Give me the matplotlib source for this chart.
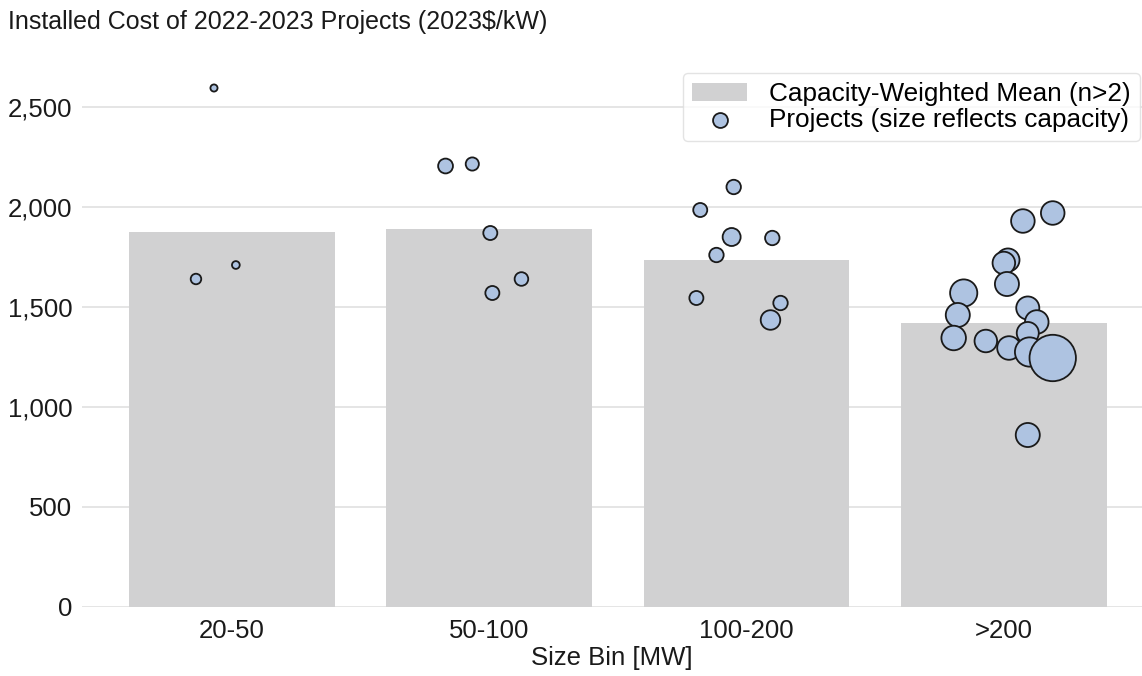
import numpy as np
import matplotlib
matplotlib.use('Agg')
import matplotlib.pyplot as plt

plt.rcParams['font.family'] = ['Liberation Sans', 'DejaVu Sans']

# Size bins and capacity-weighted mean cost (2023$/kW)
bins = ['20-50', '50-100', '100-200', '>200']
mean_cost = [1875, 1890, 1735, 1420]

# Individual projects: bin index, jitter offset, cost, capacity (MW)
proj_bin = [0, 0, 0,
            1, 1, 1, 1, 1,
            2, 2, 2, 2, 2, 2, 2, 2,
            3, 3, 3, 3, 3, 3, 3, 3, 3, 3, 3, 3, 3, 3, 3, 3]
proj_jitter = [-0.07, -0.14, 0.015,
               -0.17, -0.066, 0.004, 0.125, 0.012,
               -0.05, -0.18, -0.058, 0.10, -0.117, -0.195, 0.132, 0.093,
               0.074, 0.19, 0.016, 0.0, 0.012, -0.156, -0.179, 0.093,
               0.128, 0.093, -0.195, -0.07, 0.02, 0.10, 0.19, 0.093]
proj_cost = [2595, 1640, 1710,
             2205, 2215, 1870, 1640, 1570,
             2100, 1985, 1850, 1845, 1760, 1545, 1520, 1435,
             1930, 1970, 1735, 1720, 1615, 1570, 1460, 1495,
             1425, 1370, 1345, 1330, 1295, 1275, 1245, 860]
proj_cap = [22, 48, 26,
            95, 75, 85, 80, 85,
            90, 85, 140, 90, 90, 85, 90, 165,
            240, 240, 230, 220, 250, 320, 250, 230,
            240, 210, 260, 220, 240, 370, 930, 250]

fig = plt.figure(figsize=(11.42, 6.76), dpi=100)
ax = fig.add_axes([82 / 1142, 1 - 607 / 676, 1 - 82 / 1142, (607 - 67) / 676])

x = np.arange(len(bins))
bars = ax.bar(x, mean_cost, width=0.8, color='#d1d1d2', zorder=2,
              label='Capacity-Weighted Mean (n>2)')

px = np.array(proj_bin) + np.array(proj_jitter)
sizes = np.array(proj_cap) * 1.2
pts = ax.scatter(px, proj_cost, s=sizes, facecolor='#aec3e1', edgecolor='#1a1a1a',
                 linewidth=1.3, zorder=3, label='Projects (size reflects capacity)')

ax.set_xlim(-0.583, 3.537)
ax.set_ylim(0, 2700)
ax.set_yticks([0, 500, 1000, 1500, 2000, 2500])
ax.yaxis.set_major_formatter(matplotlib.ticker.FuncFormatter(lambda v, p: f'{int(v):,}'))
ax.set_xticks(x)
ax.set_xticklabels(bins)
ax.tick_params(axis='both', length=0, labelsize=18.5, colors='#1a1a1a')
ax.tick_params(axis='y', pad=7)
ax.tick_params(axis='x', pad=9)
ax.grid(axis='y', color='#e3e3e3', linewidth=1.3, zorder=0)
for s in ax.spines.values():
    s.set_visible(False)
ax.set_xlabel('Size Bin [MW]', fontsize=18.5, color='#1a1a1a', labelpad=2)

fig.text(8 / 1142, 1 - 22 / 676, 'Installed Cost of 2022-2023 Projects (2023$/kW)',
         fontsize=18, color='#1a1a1a', va='center', ha='left')

leg = ax.legend([bars, pts], [bars.get_label(), pts.get_label()],
                loc='upper right', bbox_to_anchor=(1140 / 1142, 1 - 73 / 676),
                bbox_transform=fig.transFigure, fontsize=18.8, frameon=True,
                fancybox=True, borderpad=0.35, labelspacing=0.08,
                handlelength=2.1, handletextpad=0.85, borderaxespad=0)
leg.get_frame().set_edgecolor('#dddddd')
leg.get_frame().set_linewidth(1.0)
leg.legend_handles[1].set_sizes([115])

fig.savefig('out.png', dpi=100)
